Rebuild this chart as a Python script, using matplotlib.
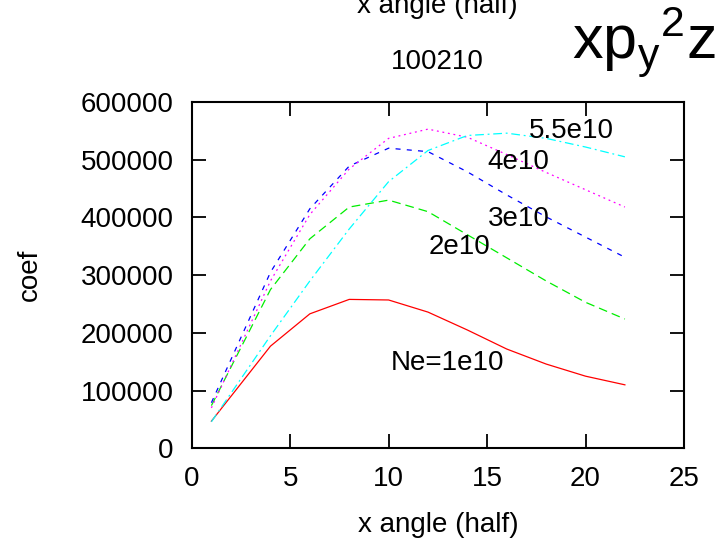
import matplotlib
matplotlib.use('Agg')
import matplotlib.pyplot as plt
import numpy as np

plt.rcParams['font.family'] = 'Liberation Sans'
plt.rcParams['mathtext.fontset'] = 'custom'
plt.rcParams['mathtext.rm'] = 'Liberation Sans'
plt.rcParams['mathtext.it'] = 'Liberation Sans'

# x angle (half)
angle = np.array([1, 4, 6, 8, 10, 12, 14, 16, 18, 20, 22])

ne_1e10 = np.array([47000, 177000, 233000, 258000, 257000, 236000, 205000, 172000, 146000, 125000, 110000])
ne_2e10 = np.array([74000, 275000, 363000, 418000, 430000, 410000, 370000, 330000, 290000, 253000, 224000])
ne_3e10 = np.array([79000, 305000, 415000, 489000, 520000, 514000, 479000, 439000, 401000, 366000, 331000])
ne_4e10 = np.array([70000, 290000, 405000, 484000, 537000, 553000, 539000, 509000, 478000, 448000, 418000])
ne_55e10 = np.array([46000, 195000, 290000, 380000, 462000, 516000, 542000, 546000, 537000, 522000, 505000])

labels = ['Ne=1e10', '2e10', '3e10', '4e10', '5.5e10']

fig = plt.figure(figsize=(7.18, 5.38), dpi=100)
ax = fig.add_axes([0.267, 0.1667, 0.9526 - 0.267, 0.8104 - 0.1667])

lw = 0.9
ax.plot(angle, ne_1e10, color='red', lw=lw, linestyle='-')
ax.plot(angle, ne_2e10, color='#00ee00', lw=lw, linestyle=(0, (7, 4)))
ax.plot(angle, ne_3e10, color='blue', lw=lw, linestyle=(0, (4, 5)))
ax.plot(angle, ne_4e10, color='magenta', lw=lw, linestyle=(0, (1.5, 3)))
ax.plot(angle, ne_55e10, color='cyan', lw=lw, linestyle=(0, (7, 3, 1.5, 3)))

fs = 20
ax.text(12.97, 148000, labels[0], fontsize=fs, ha='center', va='center')
ax.text(13.6, 349000, labels[1], fontsize=fs, ha='center', va='center')
ax.text(16.6, 397000, labels[2], fontsize=fs, ha='center', va='center')
ax.text(16.6, 496000, labels[3], fontsize=fs, ha='center', va='center')
ax.text(19.27, 550000, labels[4], fontsize=fs, ha='center', va='center')

ax.set_xlim(0, 25)
ax.set_ylim(0, 600000)
ax.set_xticks(np.arange(0, 26, 5))
ax.set_yticks(np.arange(0, 600001, 100000))
ax.tick_params(direction='in', length=10, width=1.3, labelsize=fs,
               top=True, right=True, pad=13)
for s in ax.spines.values():
    s.set_linewidth(1.5)

ax.set_xlabel('x angle (half)', fontsize=fs, labelpad=14)
ax.set_ylabel('coef', fontsize=fs, labelpad=27)

fig.text(0.609, 1.0 - 6 / 538, 'x angle (half)', fontsize=fs, ha='center', va='center')
fig.text(0.609, 1.0 - 62 / 538, '100210', fontsize=fs, ha='center', va='center')
fig.text(0.896, 1.0 - 42 / 538, r'$\mathregular{xp_y{}^2z}$', fontsize=44, ha='center', va='center')

fig.savefig('out.png', dpi=100)
